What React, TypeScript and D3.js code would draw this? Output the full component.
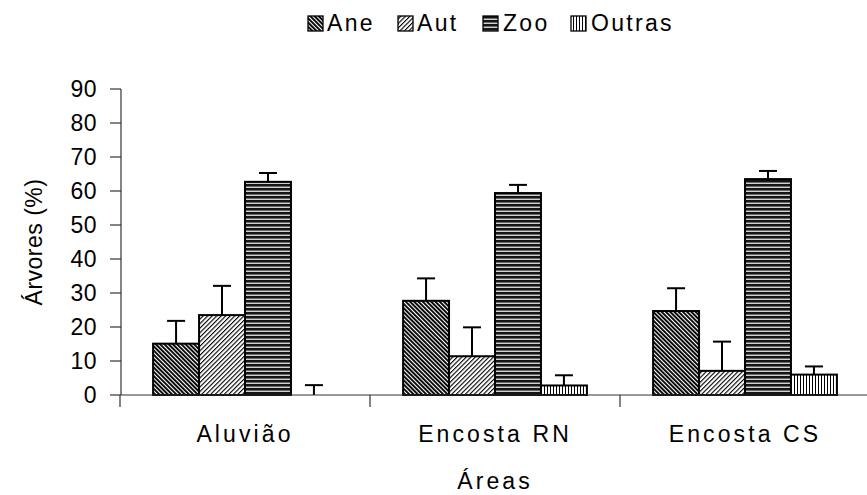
import React from "react";
import * as d3 from "d3";

const categories = ["Aluvião", "Encosta RN", "Encosta CS"];
const seriesNames = ["Ane", "Aut", "Zoo", "Outras"];
const aneValues = [15.1, 27.7, 24.7];
const autValues = [23.5, 11.4, 7.1];
const zooValues = [62.7, 59.4, 63.5];
const outrasValues = [0, 2.8, 6.0];
const aneErrors = [6.7, 6.6, 6.7];
const autErrors = [8.6, 8.5, 8.6];
const zooErrors = [2.6, 2.4, 2.4];
const outrasErrors = [2.9, 3.0, 2.4];
const yTicks = [0, 10, 20, 30, 40, 50, 60, 70, 80, 90];

const valuesBySeries = [aneValues, autValues, zooValues, outrasValues];
const errorsBySeries = [aneErrors, autErrors, zooErrors, outrasErrors];
const patternIds = ["pAne", "pAut", "pZoo", "pOutras"];

const W = 867;
const H = 495;
const FONT = "'Liberation Sans', Arial, sans-serif";

export default function App() {
  const x0 = d3.scaleBand<string>().domain(categories).range([120, 870]).paddingInner(0).paddingOuter(0);
  const x1 = d3
    .scaleBand<string>()
    .domain(seriesNames)
    .range([0, x0.bandwidth()])
    .paddingInner(0)
    .paddingOuter(0.72);
  const y = d3.scaleLinear().domain([0, 90]).range([395, 89]);
  const axisColor = "#333";
  const ls = 3.1;
  const fs = 23;

  return (
    <svg width={W} height={H} style={{ position: "absolute", left: 0, top: 0, background: "#fff" }} fontFamily={FONT}>
      <defs>
        <pattern id="pAne" patternUnits="userSpaceOnUse" width={3} height={3} patternTransform="rotate(-45)">
          <rect width={3} height={3} fill="#fff" />
          <rect width={1.9} height={3} fill="#000" />
        </pattern>
        <pattern id="pAut" patternUnits="userSpaceOnUse" width={3.2} height={3.2} patternTransform="rotate(45)">
          <rect width={3.2} height={3.2} fill="#fff" />
          <rect width={1.1} height={3.2} fill="#000" />
        </pattern>
        <pattern id="pZoo" patternUnits="userSpaceOnUse" width={4} height={4}>
          <rect width={4} height={4} fill="#151515" />
          <rect y={2} width={4} height={1} fill="#6a6a6a" />
          <rect y={3} width={4} height={1} fill="#d0d0d0" />
        </pattern>
        <pattern id="pOutras" patternUnits="userSpaceOnUse" width={3} height={3}>
          <rect width={3} height={3} fill="#fff" />
          <rect x={0} width={1} height={3} fill="#000" />
        </pattern>
      </defs>

      {/* Legend */}
      {(() => {
        const items = [
          { x: 308, tx: 327 },
          { x: 398, tx: 417 },
          { x: 483, tx: 503 },
          { x: 571, tx: 591 },
        ];
        return seriesNames.map((s, i) => (
          <g key={s}>
            <rect x={items[i].x} y={16} width={15} height={15} fill={`url(#${patternIds[i]})`} stroke="#000" strokeWidth={1.3} />
            <text x={items[i].tx} y={31} fontSize={fs} letterSpacing={2.3} fill="#000">
              {s}
            </text>
          </g>
        ));
      })()}

      {/* Y axis */}
      <line x1={121} x2={121} y1={y(90)} y2={y(0)} stroke={axisColor} strokeWidth={1.2} />
      {yTicks.map((t) => (
        <g key={t}>
          <line x1={110} x2={121} y1={y(t)} y2={y(t)} stroke={axisColor} strokeWidth={1.2} />
          <text x={97} y={y(t)} dy="0.36em" textAnchor="end" fontSize={fs} letterSpacing={0.5} fill="#000">
            {t}
          </text>
        </g>
      ))}
      <text
        transform={`translate(42,${(y(0) + y(90)) / 2}) rotate(-90)`}
        textAnchor="middle"
        fontSize={fs}
        letterSpacing={0.5}
        fill="#000"
      >
        Árvores (%)
      </text>

      {/* Bars */}
      {categories.map((c, ci) => (
        <g key={c} transform={`translate(${x0(c)},0)`}>
          {seriesNames.map((s, si) => {
            const v = valuesBySeries[si][ci];
            const e = errorsBySeries[si][ci];
            const bx = x1(s)!;
            const bw = x1.bandwidth();
            const cx = bx + bw / 2;
            return (
              <g key={s}>
                {v > 0 && (
                  <rect
                    x={bx}
                    y={y(v)}
                    width={bw}
                    height={y(0) - y(v)}
                    fill={`url(#${patternIds[si]})`}
                    stroke="#000"
                    strokeWidth={2}
                  />
                )}
                <line x1={cx} x2={cx} y1={y(v)} y2={y(v + e)} stroke="#000" strokeWidth={2} />
                <line x1={cx - 9} x2={cx + 9} y1={y(v + e)} y2={y(v + e)} stroke="#000" strokeWidth={2} />
              </g>
            );
          })}
        </g>
      ))}

      {/* X axis */}
      <line x1={121} x2={870} y1={y(0)} y2={y(0)} stroke={axisColor} strokeWidth={1.2} />
      {categories.map((c) => (
        <line key={c} x1={x0(c)!} x2={x0(c)!} y1={y(0)} y2={y(0) + 12} stroke={axisColor} strokeWidth={1.2} />
      ))}
      {categories.map((c) => (
        <text key={c} x={x0(c)! + x0.bandwidth() / 2} y={442} textAnchor="middle" fontSize={fs} letterSpacing={ls} fill="#000">
          {c}
        </text>
      ))}
      <text x={495} y={489} textAnchor="middle" fontSize={fs} letterSpacing={ls} fill="#000">
        Áreas
      </text>
    </svg>
  );
}
